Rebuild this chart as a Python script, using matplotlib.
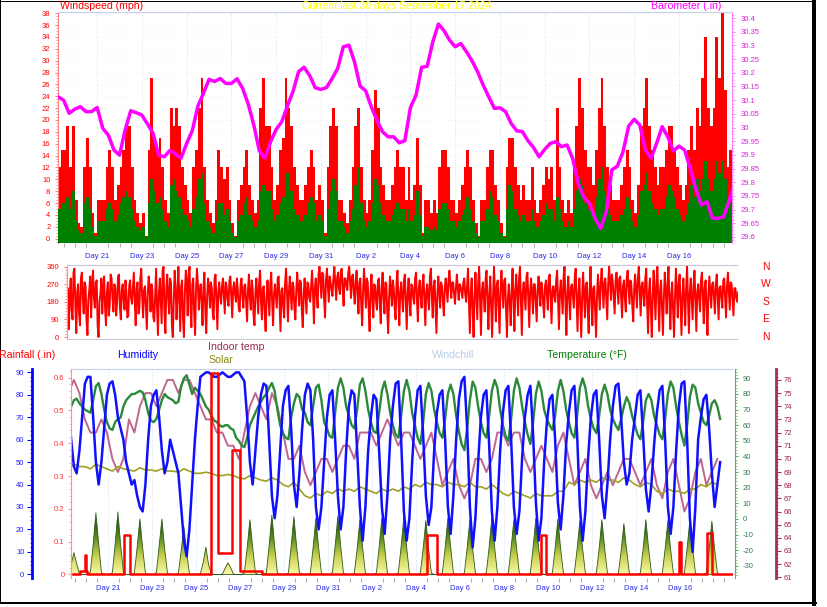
import numpy as np
import matplotlib.pyplot as plt
from matplotlib.colors import LinearSegmentedColormap
from matplotlib.lines import Line2D
from matplotlib.ticker import MultipleLocator, FuncFormatter

plt.rcParams['font.family'] = ['Liberation Sans', 'DejaVu Sans']
plt.rcParams['axes.unicode_minus'] = False

W, H = 828, 607

# x values are in days: August day number, September carries on as 31 + day
day_ticks = [21, 23, 25, 27, 29, 31, 33, 35, 37, 39, 41, 43, 45, 47]
day_labels = ['Day 21', 'Day 23', 'Day 25', 'Day 27', 'Day 29', 'Day 31', 'Day 2',
              'Day 4', 'Day 6', 'Day 8', 'Day 10', 'Day 12', 'Day 14', 'Day 16']

# wind, 3-hourly, mph
wind_t0, wind_dt = 19.25, 0.125
gust = [12, 15, 15, 19, 12, 19, 6.5, 2.6,  2, 12, 17, 12, 4.3, 1, 6.5, 6.5,
        6.5, 12, 15, 12, 6.5, 9, 12, 15,  19, 19, 12, 6.5, 4.3, 2.6, 4.3, 0.5,
        15, 27, 17, 15, 17, 12, 6.5, 4.3,  22, 19, 22, 19, 12, 9, 6.5, 4.3,
        12, 15, 22, 27, 12, 6.5, 4.3, 2.6,  6.5, 15, 12, 10, 12, 6.5, 2.6, 0.5,
        6.5, 9, 12, 15, 9, 6.5, 4.3, 6.5,  22, 27, 19, 19, 12, 6.5, 9, 15,
        17, 27, 22, 19, 12, 9, 6.5, 6.5,  9, 12, 15, 12, 6.5, 9, 6.5, 1,
        12, 19, 22, 19, 6.5, 6.5, 4.3, 2.6,  6.5, 12, 19, 22, 12, 6.5, 4.3, 6.5,
        15, 25, 22, 12, 9, 6.5, 6.5, 9,  12, 15, 12, 12, 6.5, 12, 6.5, 9,
        17, 9, 1, 6.5, 6.5, 4.3, 6.5, 4.3,  12, 15, 15, 12, 6.5, 6.5, 4.3, 6.5,
        9, 12, 15, 12, 6.5, 2.6, 0.5, 6.5,  6.5, 12, 15, 15, 9, 6.5, 2.6, 0.5,
        12, 17, 17, 12, 9, 6.5, 9, 6.5,  6.5, 12, 6.5, 4.3, 6.5, 9, 12, 10,
        12, 6.5, 22, 12, 6.5, 4.3, 6.5, 4.3,  12, 19, 27, 22, 15, 12, 12, 9,
        15, 22, 27, 19, 12, 9, 6.5, 6.5,  6.5, 9, 12, 15, 12, 6.5, 4.3, 9,
        19, 22, 27, 19, 15, 12, 9, 12,  12, 15, 19, 19, 15, 12, 9, 6.5,
        9, 15, 19, 15, 22, 19, 27, 34,  22, 19, 22, 34, 27, 38, 25, 12,  15]
wind_avg = [5, 6, 6, 7, 5, 8, 3, 1.5,  1, 6, 7, 5, 2, 0.5, 3, 3,
            3, 5, 6, 5, 3, 4, 6, 7,  8, 7, 5, 3, 2, 1.5, 2, 0.3,
            6, 10, 8, 6, 7, 5, 3, 2,  9, 10, 8, 7, 5, 4, 3, 2,
            5, 7, 10, 11, 6, 3, 2, 1,  3, 6, 6, 4, 5, 3, 1, 0.3,
            3, 4, 6, 7, 4, 3, 2, 3,  8, 9, 8, 8, 5, 3, 4, 6,
            7, 11, 11, 8, 5, 4, 3, 3,  4, 6, 7, 6, 3, 4, 3, 0.5,
            5, 8, 10, 8, 3, 3, 2, 1,  3, 5, 9, 12, 6, 3, 2, 3,
            6, 10, 9, 6, 4, 3, 3, 4,  5, 6, 5, 5, 3, 5, 3, 4,
            8, 4, 0.5, 2, 2, 1.5, 2, 1.5,  5, 6, 6, 5, 3, 3, 2, 3,
            4, 5, 7, 5, 3, 1, 0.3, 3,  3, 5, 8, 7, 4, 3, 1, 0.3,
            5, 9, 8, 5, 4, 3, 4, 3,  3, 5, 3, 2, 3, 4, 6, 5,
            5, 3, 7, 5, 3, 2, 3, 2,  5, 8, 10, 9, 6, 5, 5, 4,
            7, 10, 12, 8, 5, 4, 3, 3,  3, 4, 5, 7, 5, 3, 2, 4,
            8, 9, 11, 8, 6, 5, 4, 5,  5, 7, 9, 8, 7, 5, 4, 3,
            4, 6, 9, 7, 10, 8, 10, 13,  10, 8, 10, 13, 11, 13, 10, 6,  6]

# barometer, 6-hourly, inHg
baro_t0, baro_dt = 19.25, 0.25
baro = [30.112, 30.100, 30.052, 30.067, 30.076, 30.058, 30.058, 30.073, 29.997, 29.972,
        29.918, 29.899, 29.991, 30.061, 30.054, 30.045, 30.013, 29.978, 29.899, 29.893,
        29.916, 29.903, 29.888, 29.942, 29.988, 30.078, 30.125, 30.176, 30.168, 30.179,
        30.161, 30.161, 30.178, 30.143, 30.086, 30.009, 29.914, 29.888, 29.948, 29.993,
        30.021, 30.078, 30.131, 30.204, 30.220, 30.189, 30.145, 30.139, 30.146, 30.179,
        30.216, 30.295, 30.301, 30.240, 30.151, 30.134, 30.076, 30.027, 29.985, 29.966,
        29.966, 29.944,
        29.952, 30.073, 30.118, 30.220, 30.224, 30.313, 30.378, 30.354, 30.319, 30.295,
        30.307, 30.277, 30.244, 30.204, 30.155, 30.112, 30.070, 30.072, 30.058, 30.015,
        29.988, 29.985, 29.952, 29.927, 29.893, 29.920, 29.942, 29.948, 29.930, 29.936,
        29.887, 29.796, 29.745, 29.723, 29.668, 29.631, 29.692, 29.845, 29.859, 29.911,
        30.005, 30.030, 30.009, 29.918, 29.887, 29.942, 30.003, 29.966, 29.914, 29.932,
        29.918, 29.851, 29.777, 29.717, 29.729, 29.668, 29.668, 29.674, 29.735, 29.800]

# wind direction, hourly, degrees
dir_t0, dir_dt = 19.25, 1 / 24
wind_dir = [180, 250, 40, 210, 300, 140, 90, 330, 350, 160, 20, 230, 270, 120, 60, 300, 330, 200, 120, 280, 260, 90, 10, 190,
            240, 310, 100, 260, 340, 200, 150, 280, 290, 60, 0, 180, 220, 300, 120, 250, 310, 150, 60, 230, 280, 110, 160, 320,
            300, 200, 130, 270, 250, 110, 180, 310, 320, 150, 90, 240, 270, 190, 140, 290, 230, 100, 110, 260, 290, 200, 170, 250,
            330, 180, 60, 250, 280, 120, 150, 300, 350, 200, 100, 240, 260, 150, 40, 220, 310, 250, 130, 270, 240, 100, 80, 210,
            350, 150, 10, 220, 300, 180, 70, 340, 360, 120, 20, 250, 320, 200, 120, 300, 280, 60, 0, 190, 340, 250, 90, 210,
            360, 200, 30, 260, 290, 90, 0, 230, 340, 280, 110, 320, 360, 150, 50, 270, 300, 120, 10, 240, 350, 270, 140, 230,
            270, 180, 60, 250, 330, 140, 20, 210, 300, 250, 150, 280, 250, 120, 90, 300, 320, 180, 40, 230, 280, 210, 170, 260,
            300, 210, 120, 280, 260, 190, 160, 290, 310, 200, 100, 250, 280, 220, 180, 300, 240, 150, 130, 270, 300, 210, 150, 260,
            270, 170, 80, 240, 320, 200, 140, 290, 250, 110, 60, 230, 300, 210, 120, 280, 340, 180, 90, 250, 260, 120, 30, 200,
            290, 200, 110, 270, 330, 180, 60, 220, 270, 210, 150, 300, 310, 170, 30, 240, 250, 150, 100, 280, 350, 230, 80, 220,
            310, 220, 140, 280, 260, 150, 90, 240, 330, 250, 160, 290, 280, 130, 50, 220, 300, 210, 120, 280, 270, 200, 180, 260,
            340, 230, 70, 250, 300, 210, 150, 320, 360, 280, 200, 330, 320, 190, 100, 290, 350, 260, 180, 310, 280, 240, 210, 300,
            360, 270, 190, 300, 330, 250, 220, 340, 350, 240, 160, 300, 300, 260, 240, 330, 360, 280, 200, 310, 320, 230, 170, 280,
            340, 220, 120, 280, 300, 160, 60, 240, 350, 250, 150, 300, 280, 140, 30, 220, 320, 200, 100, 270, 260, 180, 140, 290,
            300, 170, 70, 250, 330, 210, 120, 280, 270, 130, 20, 200, 310, 240, 160, 290, 250, 150, 90, 280, 340, 190, 60, 230,
            280, 200, 130, 290, 320, 180, 40, 220, 300, 190, 110, 270, 260, 200, 170, 300, 330, 190, 80, 250, 290, 210, 150, 270,
            320, 190, 60, 230, 270, 200, 140, 310, 350, 210, 100, 260, 290, 160, 20, 210, 310, 240, 150, 280, 260, 180, 110, 250,
            300, 240, 180, 290, 340, 260, 200, 280, 280, 220, 170, 250, 320, 250, 190, 270, 260, 230, 200, 280, 300, 220, 180, 260,
            350, 180, 20, 230, 300, 140, 0, 200, 330, 210, 90, 280, 360, 190, 10, 240, 280, 200, 130, 300, 340, 180, 40, 220,
            310, 160, 0, 210, 360, 230, 80, 260, 290, 150, 20, 240, 340, 250, 150, 290, 300, 140, 0, 200, 270, 180, 60, 230,
            350, 200, 30, 240, 320, 210, 110, 300, 360, 180, 10, 230, 280, 210, 140, 310, 330, 190, 50, 240, 300, 220, 120, 270,
            270, 180, 80, 240, 310, 230, 160, 280, 250, 170, 100, 260, 290, 220, 140, 300, 320, 190, 70, 240, 260, 210, 180, 290,
            340, 190, 40, 230, 290, 200, 120, 310, 360, 170, 10, 220, 310, 200, 90, 260, 270, 210, 150, 300, 350, 190, 30, 220,
            300, 150, 0, 210, 330, 220, 100, 270, 280, 140, 20, 230, 360, 200, 60, 250, 260, 130, 0, 210, 320, 230, 140, 280,
            350, 250, 150, 280, 300, 190, 90, 270, 360, 280, 190, 320, 280, 200, 120, 290, 330, 250, 170, 300, 310, 200, 100, 260,
            290, 200, 130, 300, 340, 250, 170, 290, 270, 160, 80, 240, 320, 230, 150, 300, 360, 240, 110, 260, 280, 210, 160, 300,
            350, 170, 20, 230, 300, 140, 0, 210, 340, 220, 90, 280, 360, 190, 30, 240, 290, 150, 10, 200, 330, 240, 120, 260,
            360, 180, 40, 220, 280, 130, 0, 200, 350, 240, 100, 270, 320, 160, 10, 210, 300, 190, 60, 250, 360, 180, 20, 230,
            300, 200, 90, 260, 340, 180, 30, 230, 270, 200, 130, 290, 330, 210, 70, 250, 290, 140, 10, 220, 310, 230, 150, 270,
            280, 200, 120, 270, 320, 210, 90, 250, 260, 200, 150, 290, 300, 200, 100, 260, 330, 230, 140, 280, 270, 190, 110, 250,
            250, 200, 180, 230]

# outdoor readings, 3-hourly from midnight
wx_t0, wx_dt = 18.95, 0.125
temperature = [70, 68, 66, 72, 76, 77, 74, 72,  70, 69, 68, 76, 85, 87, 80, 70,
               62, 58, 57, 62, 64, 65, 72, 76,  78, 80, 80, 81, 82, 81, 76, 68,
               63, 62, 64, 70, 76, 80, 78, 77,  76, 74, 75, 85, 90, 92, 86, 80,
               84, 82, 80, 76, 72, 70, 66, 63,  62, 60, 59, 60, 60, 58, 57, 52,
               50, 47, 46, 52, 60, 64, 68, 72,  75, 78, 80, 84, 87, 82, 70, 60,
               55, 52, 51, 65, 74, 80, 78, 70,  68, 62, 60, 72, 84, 86, 76, 62,
               58, 53, 52, 68, 84, 90, 84, 72,  66, 60, 58, 70, 86, 90, 82, 70,
               62, 56, 55, 68, 82, 88, 80, 68,  60, 54, 52, 66, 82, 89, 82, 68,
               60, 52, 48, 62, 80, 87, 82, 70,  62, 55, 52, 64, 80, 86, 80, 66,
               56, 48, 44, 58, 76, 88, 84, 72,  62, 55, 52, 66, 82, 89, 84, 70,
               60, 53, 50, 64, 82, 90, 84, 72,  62, 54, 48, 62, 80, 88, 82, 70,
               64, 60, 57, 66, 82, 89, 82, 70,  62, 55, 52, 66, 84, 90, 84, 72,
               64, 58, 55, 66, 80, 86, 80, 70,  64, 60, 57, 64, 72, 78, 74, 66,
               60, 54, 51, 62, 76, 80, 76, 66,  60, 54, 51, 64, 80, 88, 84, 72,
               62, 54, 47, 60, 78, 86, 84, 74,  68, 62, 60, 66, 74, 76, 72, 64]
humidity = [70, 72, 75, 60, 48, 45, 55, 70,  85, 88, 88, 70, 50, 40, 50, 65,
            80, 85, 86, 80, 70, 65, 60, 50,  45, 40, 42, 35, 30, 28, 40, 60,
            75, 80, 82, 70, 55, 45, 50, 60,  55, 50, 45, 30, 15, 8, 20, 40,
            60, 75, 88, 89, 90, 90, 89, 88,  88, 89, 90, 89, 88, 88, 89, 90,
            90, 88, 86, 70, 50, 40, 55, 70,  80, 85, 84, 60, 35, 25, 35, 55,
            75, 82, 84, 65, 40, 30, 45, 65,  80, 85, 82, 60, 30, 20, 30, 50,
            70, 80, 82, 60, 35, 20, 30, 55,  75, 82, 80, 55, 30, 15, 30, 55,
            70, 80, 78, 55, 30, 18, 35, 60,  75, 85, 86, 60, 28, 15, 25, 50,
            70, 82, 84, 62, 35, 22, 30, 55,  72, 80, 82, 60, 30, 18, 35, 60,
            78, 86, 88, 65, 30, 12, 25, 50,  70, 80, 82, 58, 28, 15, 30, 55,
            72, 82, 84, 60, 30, 18, 28, 52,  70, 80, 84, 62, 32, 15, 25, 50,
            68, 78, 80, 60, 32, 20, 35, 58,  72, 82, 84, 62, 30, 15, 28, 52,
            70, 80, 82, 60, 35, 25, 40, 60,  75, 84, 85, 70, 50, 40, 45, 60,
            70, 80, 82, 62, 38, 28, 40, 58,  72, 82, 84, 60, 30, 18, 30, 55,
            75, 85, 86, 60, 25, 10, 30, 60,  70, 78, 80, 65, 45, 30, 40, 50]
solar = [0, 0, 10, 130, 280, 140, 10, 0,  0, 0, 30, 380, 790, 400, 25, 0,
         0, 0, 25, 390, 800, 380, 30, 0,  0, 0, 20, 350, 710, 340, 20, 0,
         0, 0, 25, 360, 710, 330, 20, 0,  0, 0, 20, 300, 610, 290, 15, 0,
         0, 0, 10, 150, 350, 120, 10, 0,  0, 0, 5, 80, 150, 90, 5, 0,
         0, 0, 20, 340, 700, 350, 20, 0,  0, 0, 25, 370, 760, 360, 20, 0,
         0, 0, 20, 360, 740, 350, 25, 0,  0, 0, 20, 350, 720, 340, 20, 0,
         0, 0, 25, 360, 750, 370, 20, 0,  0, 0, 20, 330, 700, 340, 20, 0,
         0, 0, 20, 350, 720, 350, 20, 0,  0, 0, 25, 360, 740, 350, 20, 0,
         0, 0, 20, 330, 690, 320, 15, 0,  0, 0, 20, 340, 720, 350, 20, 0,
         0, 0, 20, 340, 700, 330, 20, 0,  0, 0, 25, 350, 730, 350, 20, 0,
         0, 0, 20, 340, 700, 330, 15, 0,  0, 0, 20, 350, 720, 340, 20, 0,
         0, 0, 20, 340, 710, 330, 20, 0,  0, 0, 20, 330, 690, 330, 15, 0,
         0, 0, 20, 330, 700, 340, 20, 0,  0, 0, 15, 300, 650, 310, 15, 0,
         0, 0, 20, 330, 700, 330, 20, 0,  0, 0, 20, 330, 690, 320, 15, 0,
         0, 0, 20, 340, 700, 340, 20, 0,  0, 0, 20, 320, 680, 330, 15, 0]

# 6-hourly from midnight
in_t0, in_dt = 18.95, 0.25
indoor_temp = [74, 75, 76, 75,  73, 72, 72, 73,  72, 70, 69, 70,  73, 72, 74, 75,
               75, 74, 75, 76,  76, 75, 76, 76,  75, 74, 73, 73,  72, 72, 71, 71,
               70, 72, 74, 75,  74, 73, 75, 74,  72, 70, 70, 71,  69, 68, 69, 70,
               70, 69, 70, 71,  71, 70, 72, 72,  72, 71, 72, 73,  72, 71, 72, 72,
               71, 70, 71, 72,  70, 68, 69, 70,  68, 67, 68, 70,  70, 69, 70, 72,
               72, 71, 72, 72,  70, 69, 70, 71,  70, 69, 71, 72,  70, 68, 69, 70,
               68, 67, 68, 69,  68, 69, 70, 70,  69, 68, 69, 70,  68, 67, 69, 70,
               68, 66, 67, 69,  70, 68, 69, 70]
solar_line = [48, 47, 49, 48,  48, 47, 49, 48,  47, 46, 48, 47,  46.5, 46, 47.5, 46.5,
              46.5, 46, 47, 46,  46, 45.5, 47, 46,  45, 45, 45.5, 45,  44, 44, 44.5, 44,
              43, 42.5, 44, 43,  42, 41.5, 43, 42,  40, 39, 41, 38,  35, 34, 36, 35,
              37, 36, 38, 37,  38, 37, 39, 38,  37, 36, 38, 37,  38, 37, 39, 38,
              40, 39, 41, 40,  40, 39, 41, 40,  40, 39, 41, 39,  39, 38, 40, 38,
              36, 35, 37, 36,  35, 34, 36, 35,  35, 35, 37, 37,  41, 40, 42, 41,
              42, 41, 43, 42,  42, 41, 43, 42,  40, 39, 41, 40,  37, 36, 38, 37,
              37, 36, 38, 38,  40, 39, 41, 40]

# rainfall, step values starting at each time
rain_t = [19.40, 19.73, 19.96, 20.00, 20.06, 21.73, 22.00, 25.68, 26.00, 26.64,
          27.00, 28.00, 35.50, 35.95, 40.70, 40.90, 46.95, 47.05, 48.23, 48.45, 49.41]
rain_in = [0, 0.01, 0.06, 0.01, 0, 0.12, 0, 0.615, 0.065, 0.38,
           0.01, 0, 0.12, 0, 0.12, 0, 0.10, 0, 0.125, 0, 0]

fig = plt.figure(figsize=(W / 100, H / 100), dpi=100)


def box(x0, y0, x1, y1):
    return [x0 / W, 1 - y1 / H, (x1 - x0) / W, (y1 - y0) / H]


def bare(ax, keep_patch=False):
    for s in ax.spines.values():
        s.set_visible(False)
    ax.patch.set_visible(keep_patch)
    ax.tick_params(axis='both', which='both', left=False, right=False, top=False, bottom=False,
                   labelleft=False, labelright=False, labelbottom=False, labeltop=False)


def txt(x, y, s, color, size=7.6, **kw):
    fig.text(x / W, 1 - y / H, s, color=color, fontsize=size, va='center', **kw)


def day_axis(ax, pad):
    ax.set_xticks(day_ticks, day_labels)
    ax.xaxis.set_minor_locator(MultipleLocator(0.5))
    ax.tick_params(axis='x', which='major', bottom=True, labelbottom=True, length=0,
                   labelsize=5.5, labelcolor='#2a2ae6', pad=pad)
    ax.tick_params(axis='x', which='minor', bottom=True, length=3, color='#b0b0b0', width=0.8)
    for d in day_ticks:
        ax.axvline(d, color='#c8d4f4', lw=0.6, ls=(0, (1, 2)), zorder=0)


dotted = (0, (1, 1))

# ---------------- top panel: wind + barometer ----------------
tw = wind_t0 + wind_dt * np.arange(len(gust))
tb = baro_t0 + baro_dt * np.arange(len(baro))
x_top = (19.25, 49.37)

ax1 = fig.add_axes(box(58, 12, 732, 243))
bare(ax1, True)
ax1.set_xlim(*x_top)
ax1.set_ylim(-0.74, 38.2)
for v in range(2, 39, 2):
    ax1.axhline(v, color='#eeeedc', lw=0.5, ls=(0, (1, 2)), zorder=0)
ax1.bar(tw, np.array(gust) + 0.74, bottom=-0.74, width=wind_dt, align='edge',
        color='#ff0000', lw=0, zorder=2)
ax1.bar(tw, np.array(wind_avg) + 0.74, bottom=-0.74, width=wind_dt, align='edge',
        color='#008000', lw=0, zorder=3)
day_axis(ax1, 7)
ax1.spines['left'].set_visible(True)
ax1.spines['left'].set_color('#ff8080')
ax1.spines['left'].set_linestyle(dotted)
ax1.spines['top'].set_visible(True)
ax1.spines['top'].set_color('#c8d0f0')
ax1.spines['top'].set_linestyle(dotted)
ax1.yaxis.set_major_locator(MultipleLocator(2))
ax1.yaxis.set_minor_locator(MultipleLocator(0.5))
ax1.tick_params(axis='y', which='major', left=True, labelleft=True, length=2.5, color='#ff8080',
                labelsize=5.5, labelcolor='#ff0000', pad=3)
ax1.tick_params(axis='y', which='minor', left=True, length=1.5, color='#ff9090')

ax1b = ax1.twinx()
bare(ax1b)
ax1b.plot(tb, baro, color='#ff00ff', lw=2.5, zorder=4)
ax1b.set_xlim(*x_top)
ax1b.set_ylim(29.578, 30.422)
ax1b.spines['right'].set_visible(True)
ax1b.spines['right'].set_color('#ff80ff')
ax1b.spines['right'].set_linestyle(dotted)
ax1b.yaxis.set_major_locator(MultipleLocator(0.05))
ax1b.yaxis.set_minor_locator(MultipleLocator(0.0125))
ax1b.yaxis.set_major_formatter(FuncFormatter(lambda v, p: f'{round(v, 2):g}'))
ax1b.tick_params(axis='y', which='major', right=True, labelright=True, length=2.5, color='#ff80ff',
                 labelsize=5.5, labelcolor='#e020e0', pad=4)
ax1b.tick_params(axis='y', which='minor', right=True, length=1.5, color='#ff90ff')

# ---------------- middle panel: wind direction ----------------
td = dir_t0 + dir_dt * np.arange(len(wind_dir))
ax2 = fig.add_axes(box(67, 265, 738, 339))
bare(ax2, True)
ax2.plot(td, wind_dir, color='#ff0000', lw=1.4)
ax2.set_xlim(*x_top)
ax2.set_ylim(-10.2, 368.7)
ax2.set_yticks([0, 90, 180, 270, 360])
ax2.yaxis.set_minor_locator(MultipleLocator(15))
ax2.tick_params(axis='y', which='major', left=True, labelleft=True, length=2.5, color='#ff8080',
                labelsize=5.5, labelcolor='#ff0000', pad=3)
ax2.tick_params(axis='y', which='minor', left=True, length=1.5, color='#ff9090')
for side in ('left', 'top', 'bottom'):
    ax2.spines[side].set_visible(True)
    ax2.spines[side].set_linestyle(dotted)
    ax2.spines[side].set_color('#ff9090' if side == 'left' else '#c8c8d8')
for y, s in zip([266.7, 284.3, 301.9, 319.4, 337.0], ['N', 'W', 'S', 'E', 'N']):
    txt(766, y, s, '#ff0000', 7.5, ha='center')

# ---------------- bottom panel: rain, humidity, temperatures, solar ----------------
tx = wx_t0 + wx_dt * np.arange(len(temperature))
ti = in_t0 + in_dt * np.arange(len(indoor_temp))
x_bot = (19.318, 49.41)
r3 = box(71, 369, 733, 578)

ax_sol = fig.add_axes(r3, label='solar')
ax_ind = fig.add_axes(r3, label='indoor')
ax_tmp = fig.add_axes(r3, label='temp')
ax_hum = fig.add_axes(r3, label='hum')
ax_rain = fig.add_axes(r3, label='rain')
for a in (ax_sol, ax_ind, ax_tmp, ax_hum, ax_rain):
    bare(a, a is ax_sol)
    a.set_xlim(*x_bot)

# solar peaks with a yellow-to-green fill
sol_cmap = LinearSegmentedColormap.from_list('sol', ['#f8f8a8', '#c8d050', '#5a8a20', '#1e4a0a'])
fill = ax_sol.fill_between(tx, 0, solar, facecolor='none', edgecolor='#2e5a14', lw=0.6, zorder=2)
grad = np.linspace(0, 1, 256).reshape(-1, 1)
im = ax_sol.imshow(grad, extent=[tx[0], tx[-1], 0, 700], origin='lower', aspect='auto',
                   cmap=sol_cmap, zorder=1)
im.set_clip_path(fill.get_paths()[0], transform=ax_sol.transData)
ax_sol.set_xlim(*x_bot)
ax_sol.set_ylim(-45, 2630)
day_axis(ax_sol, 5)
ax_sol.spines['top'].set_visible(True)
ax_sol.spines['top'].set_color('#c8d0f0')
ax_sol.spines['top'].set_linestyle(dotted)

ax_ind.plot(ti, indoor_temp, color='#b04070', lw=1.4, alpha=0.8)
ax_ind.set_ylim(60.947, 76.83)
ax_ind.spines['right'].set_visible(True)
ax_ind.spines['right'].set_position(('axes', (775.7 - 71) / 662))
ax_ind.spines['right'].set_color('#a03060')
ax_ind.spines['right'].set_linewidth(2)
ax_ind.yaxis.set_major_locator(MultipleLocator(1))
ax_ind.yaxis.set_minor_locator(MultipleLocator(0.25))
ax_ind.tick_params(axis='y', which='major', right=True, labelright=True, length=3.5, width=0.8,
                   color='#a03060', labelsize=5.5, labelcolor='#9a2050', pad=2)
ax_ind.tick_params(axis='y', which='minor', right=True, length=1.5, width=0.6, color='#a03060')

ax_tmp.plot(tx, temperature, color='#2a8a3a', lw=1.7)
ax_tmp.set_ylim(-37.8, 96.0)
ax_tmp.spines['right'].set_visible(True)
ax_tmp.spines['right'].set_position(('axes', (735 - 71) / 662))
ax_tmp.spines['right'].set_color('#60b060')
ax_tmp.spines['right'].set_linestyle(dotted)
ax_tmp.yaxis.set_major_locator(MultipleLocator(10))
ax_tmp.yaxis.set_minor_locator(MultipleLocator(2))
ax_tmp.tick_params(axis='y', which='major', right=True, labelright=True, length=2.5,
                   color='#60b060', labelsize=5.5, labelcolor='#2e7d4f', pad=3)
ax_tmp.tick_params(axis='y', which='minor', right=True, length=1.5, color='#70c070')

ax_hum.plot(ti, solar_line, color='#a0a020', lw=1.2)
ax_hum.plot(tx, humidity, color='#1010ff', lw=1.8)
ax_hum.set_ylim(-1.65, 91.5)
ax_hum.spines['left'].set_visible(True)
ax_hum.spines['left'].set_position(('axes', (32 - 71) / 662))
ax_hum.spines['left'].set_color('#0000ff')
ax_hum.spines['left'].set_linewidth(2)
ax_hum.yaxis.set_major_locator(MultipleLocator(10))
ax_hum.yaxis.set_minor_locator(MultipleLocator(2))
ax_hum.tick_params(axis='y', which='major', left=True, labelleft=True, length=3.5, width=0.8,
                   color='#0000ff', labelsize=5.5, labelcolor='#2020ff', pad=2)
ax_hum.tick_params(axis='y', which='minor', left=True, length=1.5, width=0.6, color='#0000ff')

ax_rain.step(rain_t, rain_in, where='post', color='#ff0000', lw=1.8)
ax_rain.set_ylim(-0.0107, 0.6265)
ax_rain.spines['left'].set_visible(True)
ax_rain.spines['left'].set_color('#ff9090')
ax_rain.spines['left'].set_linestyle(dotted)
ax_rain.yaxis.set_major_locator(MultipleLocator(0.1))
ax_rain.yaxis.set_minor_locator(MultipleLocator(0.02))
ax_rain.yaxis.set_major_formatter(FuncFormatter(lambda v, p: '0' if abs(v) < 1e-6 else f'{v:.1f}'))
ax_rain.tick_params(axis='y', which='major', left=True, labelleft=True, length=2.5,
                    color='#ff9090', labelsize=5.5, labelcolor='#ff3030', pad=2)
ax_rain.tick_params(axis='y', which='minor', left=True, length=1.5, color='#ffa0a0')

# ---------------- headings ----------------
txt(60, 6, 'Windspeed (mph)', '#ff0000')
txt(302, 6, 'Current last 30 days September 17 2024', '#ffff00')
txt(651, 6, 'Barometer (.in)', '#ff00ff')
txt(-1, 355, 'Rainfall (.in)', '#ff0000')
txt(117, 355, 'Humidity', '#0000ff')
txt(208, 347, 'Indoor temp', '#9a2a4a')
txt(208, 360, 'Solar', '#8a8a10')
txt(432, 355, 'Windchill', '#b8cce8')
txt(547, 355, 'Temperature (\u00b0F)', '#008000')

# picture frame
for (x0, y0, x1, y1, lw) in [(0.5, 0, 0.5, 603, 1), (0, 0.5, 815, 0.5, 1),
                             (814.5, 0, 814.5, 604, 4), (0, 602.5, 816, 602.5, 2)]:
    fig.add_artist(Line2D([x0 / W, x1 / W], [1 - y0 / H, 1 - y1 / H], transform=fig.transFigure,
                          color='black', lw=lw * 0.72))

fig.savefig('out.png', dpi=100)
